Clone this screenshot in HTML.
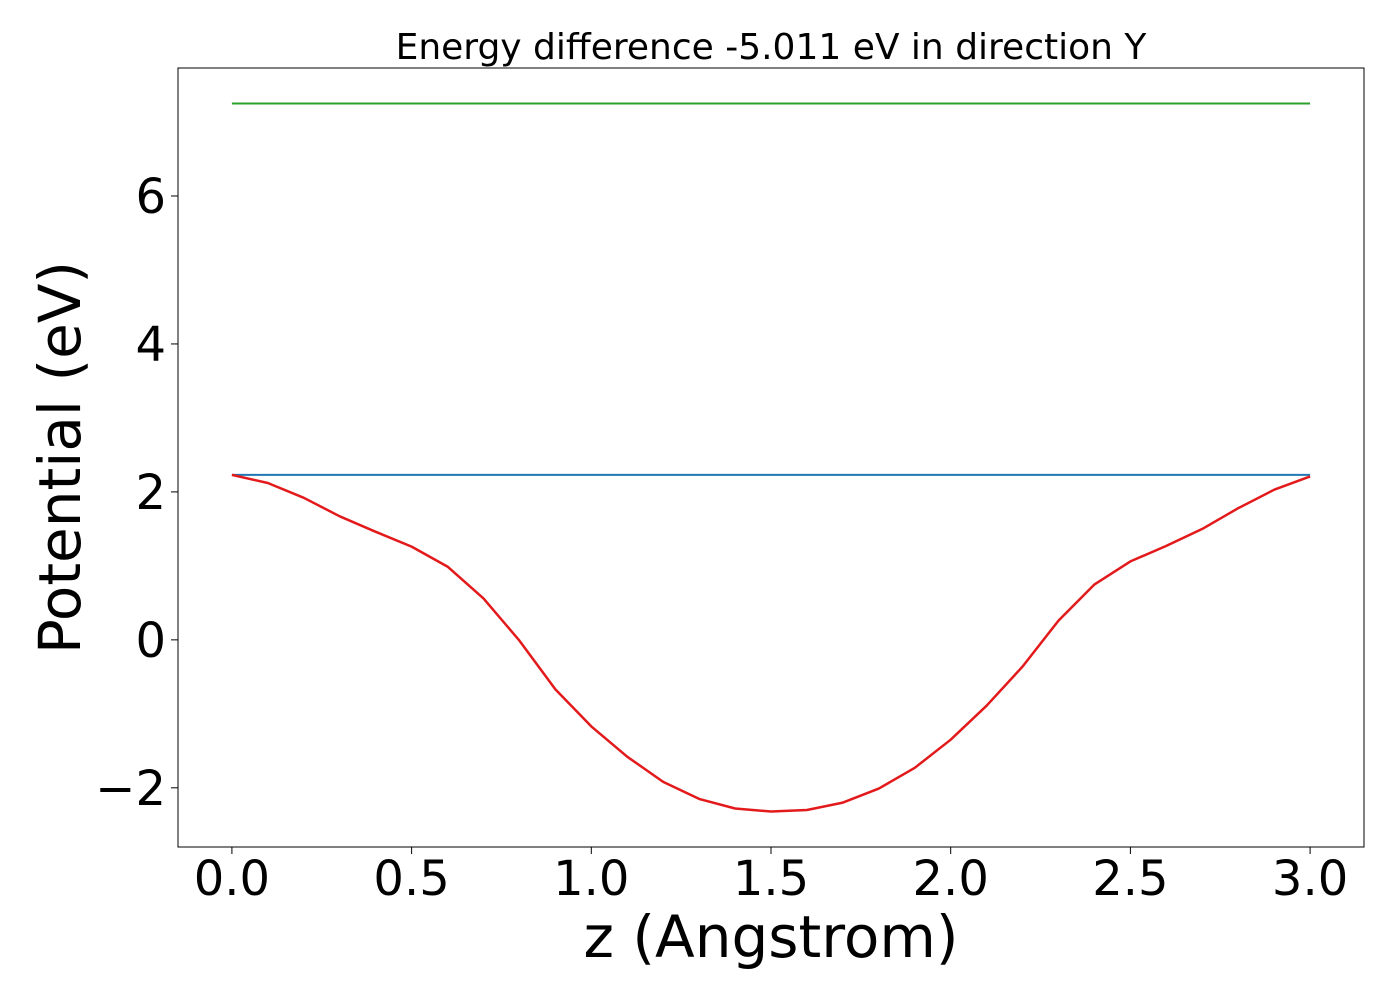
<!DOCTYPE html>
<html><head><meta charset="utf-8">
<style>
html,body{margin:0;padding:0;background:#fff;}
svg text{font-family:"DejaVu Sans","Liberation Sans",sans-serif;fill:#000;}
</style></head>
<body>
<svg id="chart" width="1400" height="1000" xmlns="http://www.w3.org/2000/svg">
<rect width="1400" height="1000" fill="#fff"/>
<g id="plot"></g>
<g id="axes"></g>
</svg>
<script>
const xValues = [0.0,0.1,0.2,0.3,0.4,0.5,0.6,0.7,0.8,0.9,1.0,1.1,1.2,1.3,1.4,1.5,1.6,1.7,1.8,1.9,2.0,2.1,2.2,2.3,2.4,2.5,2.6,2.7,2.8,2.9,3.0];
const potentialValues = [2.23,2.12,1.92,1.67,1.46,1.26,0.99,0.56,-0.01,-0.67,-1.17,-1.58,-1.92,-2.15,-2.28,-2.32,-2.30,-2.20,-2.01,-1.73,-1.35,-0.89,-0.36,0.26,0.75,1.06,1.27,1.50,1.78,2.03,2.21];
const blueLevel = 2.23;
const greenLevel = 7.25;
const xTicks = [0.0,0.5,1.0,1.5,2.0,2.5,3.0];
const xTickLabels = ["0.0","0.5","1.0","1.5","2.0","2.5","3.0"];
const yTicks = [-2,0,2,4,6];
const yTickLabels = ["\u22122","0","2","4","6"];
const titleText = "Energy difference -5.011 eV in direction Y";

const L=178,R=1364,T=68,B=847;
const xMin=-0.15,xMax=3.15,yMin=-2.80,yMax=7.73;
const sx=v=>L+(v-xMin)/(xMax-xMin)*(R-L);
const sy=v=>B-(v-yMin)/(yMax-yMin)*(B-T);
const NS="http://www.w3.org/2000/svg";
const plot=document.getElementById('plot'), axes=document.getElementById('axes');
function mk(tag,attrs,parent){const e=document.createElementNS(NS,tag);for(const k in attrs)e.setAttribute(k,attrs[k]);parent.appendChild(e);return e;}

const x0=xValues[0], x1=xValues[xValues.length-1];
const g=mk('line',{x1:sx(x0),x2:sx(x1),y1:sy(greenLevel),y2:sy(greenLevel),stroke:'#2ca02c','stroke-width':2},plot);


const b=mk('line',{x1:sx(x0),x2:sx(x1),y1:sy(blueLevel),y2:sy(blueLevel),stroke:'#1f77b4','stroke-width':2},plot);


const pts=xValues.map((x,i)=>sx(x).toFixed(1)+','+sy(potentialValues[i]).toFixed(1)).join(' ');
const r=mk('polyline',{points:pts,fill:'none',stroke:'#e31a1c','stroke-width':2.5,'stroke-linejoin':'round'},plot);



const frame=mk('rect',{x:L,y:T,width:R-L,height:B-T,fill:'none',stroke:'#000','stroke-width':1},axes);



xTicks.forEach((v,i)=>{
  const t=mk('line',{x1:sx(v),x2:sx(v),y1:B,y2:B+7,stroke:'#000','stroke-width':1},axes);
  
  
  const l=mk('text',{x:sx(v),y:B+48,'text-anchor':'middle','font-size':48},axes);
  l.textContent=xTickLabels[i];
  
  
});
yTicks.forEach((v,i)=>{
  const t=mk('line',{x1:L-7,x2:L,y1:sy(v),y2:sy(v),stroke:'#000','stroke-width':1},axes);
  
  
  const l=mk('text',{x:L-12,y:sy(v)+17,'text-anchor':'end','font-size':48},axes);
  l.textContent=yTickLabels[i];
  
  
});
const xl=mk('text',{x:(L+R)/2,y:957,'text-anchor':'middle','font-size':58},axes);
xl.textContent="z (Angstrom)";


const yl=mk('text',{x:0,y:0,'text-anchor':'middle','font-size':58,transform:'translate(80,'+((T+B)/2)+') rotate(-90)'},axes);
yl.textContent="Potential (eV)";


const tt=mk('text',{x:(L+R)/2,y:59,'text-anchor':'middle','font-size':36},axes);
tt.textContent=titleText;


</script>
</body></html>
